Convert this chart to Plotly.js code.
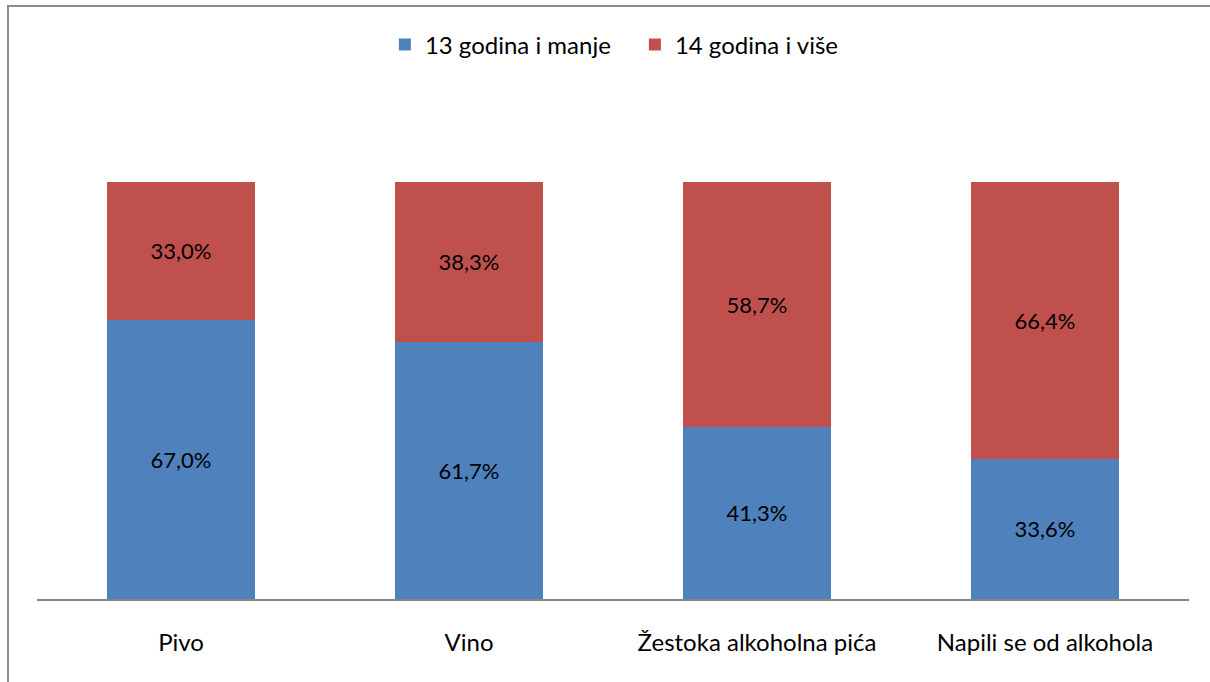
<!DOCTYPE html>
<html>
<head>
<meta charset="utf-8">
<script src="https://cdn.plot.ly/plotly-3.0.1.min.js"></script>
<style>
  html, body { margin: 0; padding: 0; background: #ffffff; }
  #wrap { position: relative; width: 1210px; height: 682px; overflow: hidden; }
  #chart { position: absolute; left: 0; top: 0; width: 1210px; height: 682px; }
  #frame { position: absolute; left: 7px; top: 5px; width: 1220px; height: 700px;
           border-top: 2px solid #8c8c8c; border-left: 2px solid #8c8c8c; pointer-events: none; }
</style>
</head>
<body>
<div id="wrap">
  <div id="chart"></div>
  <div id="frame"></div>
</div>
<script>
const categories = ["Pivo", "Vino", "Žestoka alkoholna pića", "Napili se od alkohola"];
const seriesNames = ["13 godina i manje", "14 godina i više"];
const younger = [0.670, 0.617, 0.413, 0.336];
const older = [0.330, 0.383, 0.587, 0.664];
const colors = ["#4F81BD", "#C0504D"];

const fmt = v => (v * 100).toFixed(1).replace('.', ',') + '%';
const font = 'Lato, "Open Sans", "Liberation Sans", sans-serif';

const mk = (vals, i) => ({
  type: 'bar',
  name: seriesNames[i],
  x: categories,
  y: vals,
  text: vals.map(fmt),
  textposition: 'inside',
  insidetextanchor: 'middle',
  textangle: 0,
  constraintext: 'none',
  textfont: { family: font, size: 22, color: '#000000' },
  marker: { color: colors[i], line: { width: 0 } },
  hoverinfo: 'none'
});

const data = [mk(younger, 0), mk(older, 1)];

const layout = {
  width: 1210,
  height: 682,
  margin: { l: 37, r: 21, t: 182, b: 83 },
  paper_bgcolor: '#ffffff',
  plot_bgcolor: '#ffffff',
  barmode: 'stack',
  bargap: 0.486,
  showlegend: true,
  legend: {
    orientation: 'h',
    x: 0.519, xanchor: 'center',
    y: 1.3285, yanchor: 'middle',
    entrywidth: 205,
    font: { family: font, size: 24, color: '#000000' },
    traceorder: 'normal',
    itemclick: false
  },
  xaxis: {
    showline: true,
    linecolor: '#868686',
    linewidth: 1.5,
    ticks: '',
    ticklabelstandoff: 22,
    tickfont: { family: font, size: 24, color: '#000000' },
    showgrid: false,
    zeroline: false,
    fixedrange: true
  },
  yaxis: {
    range: [0, 1],
    visible: false,
    showgrid: false,
    zeroline: false,
    fixedrange: true
  },
  font: { family: font }
};

Plotly.newPlot('chart', data, layout, { displayModeBar: false, staticPlot: true });
</script>
</body>
</html>
